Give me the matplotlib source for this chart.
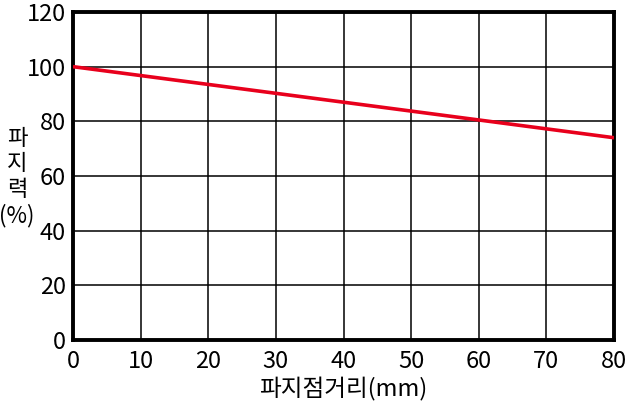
import matplotlib
matplotlib.use("Agg")
import matplotlib.pyplot as plt

plt.rcParams['font.family'] = ['Noto Sans CJK KR', 'DejaVu Sans']

# data
distance = [0, 80]
force = [100, 74]
xticks = [0, 10, 20, 30, 40, 50, 60, 70, 80]
yticks = [0, 20, 40, 60, 80, 100, 120]

fig = plt.figure(figsize=(6.27, 4.08), dpi=100)
ax = fig.add_axes([73/627, 68/408, 541/627, 328/408])

ax.plot(distance, force, color='#e8001c', lw=2.6, zorder=3, solid_capstyle='butt')

ax.set_xlim(0, 80)
ax.set_ylim(0, 120)
ax.set_xticks(xticks)
ax.set_yticks(yticks)
ax.grid(True, color='black', lw=1.1)
ax.tick_params(length=0, labelsize=17, pad=5)
ax.tick_params(axis='x', pad=7)
for s in ax.spines.values():
    s.set_linewidth(2.8)

ax.set_xlabel('파지점거리(mm)', fontsize=17, labelpad=3)
fig.text(17/627, 1 - 177/408, '파\n지\n력\n(%)', fontsize=16, ha='center', va='center',
         linespacing=1.15)

fig.savefig('out.png', dpi=100)
